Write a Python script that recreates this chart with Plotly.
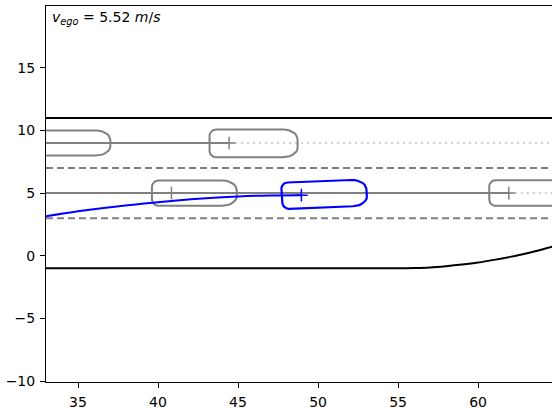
import numpy as np
import plotly.graph_objects as go

# ---- data ----
x_range = [33.0, 64.62]
y_range = [-10.08, 19.94]
x_ticks = [35, 40, 45, 50, 55, 60]
y_ticks = [-10, -5, 0, 5, 10, 15]

road_left_y = 11.0
road_right_x = [33, 55, 56, 57, 58, 59, 60, 61, 62, 63, 64, 65]
road_right_y = [-1.0, -1.0, -0.98, -0.93, -0.83, -0.70, -0.54, -0.33, -0.09, 0.18, 0.50, 0.85]

lane_border_y = [7.0, 3.0]
lane_center_y = [9.0, 5.0]
lane_lead_x = [44.44, 61.92]       # solid path until the last object, dotted after

obj_x = [32.94, 44.44, 40.84, 61.92]
obj_y = [9.0, 8.97, 5.0, 5.01]
obj_len = [5.3, 5.5, 5.3, 5.3]
obj_wid = [2.0, 2.2, 2.0, 2.05]

ego_obj_x = 48.96
ego_obj_y = 4.84
ego_obj_len = 5.3
ego_obj_wid = 2.1
ego_obj_heading = 0.05

ego_path_x = [33.0, 35.0, 37.0, 39.0, 41.0, 43.0, 45.0, 47.0, 48.96]
ego_path_y = [3.15, 3.55, 3.88, 4.15, 4.40, 4.60, 4.74, 4.82, 4.84]

v_ego = 5.52
x_end = 65.0

GRAY = "#808080"
LIGHT = "#d0d0d0"
BLUE = "#0000ff"


def outline(cx, cy, length, width, heading=0.0, rear=1.22):
    x0, x1, hw = -rear, length - rear, width / 2
    rrx, rry = 0.4, 0.5
    frx, fry = 0.9, 0.75
    pts = []

    def arc(ccx, ccy, rx, ry, a0, a1):
        for a in np.linspace(a0, a1, 8):
            pts.append((ccx + rx * np.cos(a), ccy + ry * np.sin(a)))

    arc(x1 - frx, -hw + fry, frx, fry, -np.pi / 2, 0)
    arc(x1 - frx, hw - fry, frx, fry, 0, np.pi / 2)
    arc(x0 + rrx, hw - rry, rrx, rry, np.pi / 2, np.pi)
    arc(x0 + rrx, -hw + rry, rrx, rry, np.pi, 1.5 * np.pi)
    pts.append(pts[0])
    p = np.array(pts)
    c, s = np.cos(heading), np.sin(heading)
    xs = cx + p[:, 0] * c - p[:, 1] * s
    ys = cy + p[:, 0] * s + p[:, 1] * c
    return xs, ys


fig = go.Figure()

# road edges
fig.add_trace(go.Scatter(x=[x_range[0], x_end], y=[road_left_y, road_left_y], mode="lines",
                         line=dict(color="black", width=2), hoverinfo="skip"))
fig.add_trace(go.Scatter(x=road_right_x, y=road_right_y, mode="lines",
                         line=dict(color="black", width=2, shape="spline"), hoverinfo="skip"))

# lane borders
for yb in lane_border_y:
    fig.add_trace(go.Scatter(x=[x_range[0], x_end], y=[yb, yb], mode="lines",
                             line=dict(color=GRAY, width=2, dash="7px,4px"), hoverinfo="skip"))

# lane paths
for yc, xl in zip(lane_center_y, lane_lead_x):
    fig.add_trace(go.Scatter(x=[x_range[0], xl], y=[yc, yc], mode="lines",
                             line=dict(color=GRAY, width=2), hoverinfo="skip"))
    fig.add_trace(go.Scatter(x=[xl, x_end], y=[yc, yc], mode="lines",
                             line=dict(color=LIGHT, width=2, dash="2px,4px"), hoverinfo="skip"))

# other objects
for ox, oy, ol, ow in zip(obj_x, obj_y, obj_len, obj_wid):
    xs, ys = outline(ox, oy, ol, ow)
    fig.add_trace(go.Scatter(x=xs, y=ys, mode="lines", line=dict(color=GRAY, width=2),
                             hoverinfo="skip"))
fig.add_trace(go.Scatter(x=obj_x, y=[9.0, 9.0, 5.0, 5.0], mode="markers",
                         marker=dict(symbol="cross-thin", size=9, line=dict(color=GRAY, width=1.5)),
                         hoverinfo="skip"))

# ego path & ego object
fig.add_trace(go.Scatter(x=ego_path_x, y=ego_path_y, mode="lines",
                         line=dict(color=BLUE, width=2, shape="spline"), hoverinfo="skip"))
xs, ys = outline(ego_obj_x, ego_obj_y, ego_obj_len, ego_obj_wid, ego_obj_heading)
fig.add_trace(go.Scatter(x=xs, y=ys, mode="lines", line=dict(color=BLUE, width=2.2),
                         hoverinfo="skip"))
fig.add_trace(go.Scatter(x=[ego_obj_x], y=[ego_obj_y], mode="markers",
                         marker=dict(symbol="cross-thin", size=9, line=dict(color=BLUE, width=1.5)),
                         hoverinfo="skip"))

fig.add_annotation(xref="paper", yref="paper", x=0.008, y=0.997, xanchor="left", yanchor="top",
                   showarrow=False,
                   text=f"<i>v</i><sub><i>ego</i></sub> = {v_ego:.2f} <i>m</i>/<i>s</i>",
                   font=dict(family="DejaVu Sans", size=14, color="black"))

axis_common = dict(showgrid=False, zeroline=False, showline=True, linecolor="black", linewidth=1,
                   ticks="outside", ticklen=5, tickwidth=1, tickcolor="black",
                   tickfont=dict(family="DejaVu Sans", size=14, color="black"))
fig.update_xaxes(range=x_range, tickvals=x_ticks, mirror=True, ticklabelstandoff=2, **axis_common)
fig.update_yaxes(range=y_range, tickvals=y_ticks, ticklabelstandoff=2, **axis_common)

fig.update_layout(width=552, height=410, showlegend=False,
                  margin=dict(l=46, r=0, t=6, b=26),
                  plot_bgcolor="white", paper_bgcolor="white")

fig.write_html("out.html", config={"displayModeBar": False},
               post_script="document.body.style.margin='0px';document.body.style.overflow='hidden';")
